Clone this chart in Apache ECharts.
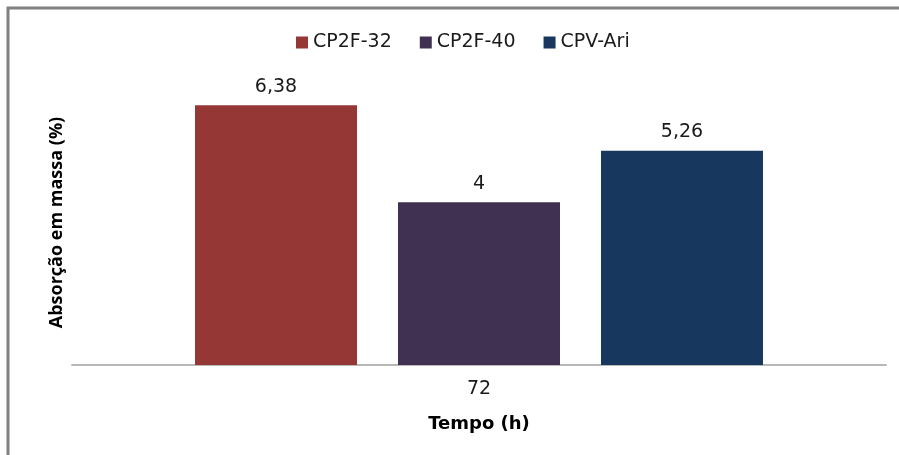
<!DOCTYPE html>
<html>
<head>
<meta charset="utf-8">
<script src="https://cdn.jsdelivr.net/npm/echarts@6/dist/echarts.min.js"></script>
<style>
  html, body { margin: 0; padding: 0; background: #ffffff; }
  #chart { width: 899px; height: 455px; }
</style>
</head>
<body>
<div id="chart"></div>
<script>
// Mass absorption after 72 h for each mortar mix
const categories = ['72'];
const seriesNames = ['CP2F-32', 'CP2F-40', 'CPV-Ari'];
const seriesValues = [[6.38], [4], [5.26]];
const seriesColors = ['#953735', '#403152', '#17375E'];

const fmt = v => String(v).replace('.', ',');

const chart = echarts.init(document.getElementById('chart'));

const series = seriesNames.map((name, i) => ({
  name: name,
  type: 'bar',
  data: seriesValues[i],
  barWidth: 162,
  barGap: '25.3%',
  itemStyle: { color: seriesColors[i] },
  label: {
    show: true,
    position: 'top',
    distance: 9,
    formatter: p => fmt(p.value),
    fontFamily: 'DejaVu Sans',
    fontSize: 19,
    color: '#1a1a1a'
  }
}));

chart.setOption({
  backgroundColor: '#ffffff',
  animation: false,
  graphic: [{
    type: 'rect',
    shape: { x: 8, y: 8, width: 1000, height: 1000 },
    style: { fill: 'none', stroke: '#808080', lineWidth: 3 },
    z: 100
  }],
  legend: {
    left: 291,
    top: 28,
    itemWidth: 12,
    itemHeight: 12,
    itemGap: 28,
    icon: 'rect',
    textStyle: { fontFamily: 'DejaVu Sans', fontSize: 19, color: '#1a1a1a' },
    data: seriesNames
  },
  grid: { left: 72, right: 13, top: 80, bottom: 90 },
  xAxis: {
    type: 'category',
    data: categories,
    axisLine: { lineStyle: { color: '#b8b8b8', width: 2 } },
    axisTick: { show: false },
    axisLabel: { margin: 15, fontFamily: 'DejaVu Sans', fontSize: 19, color: '#1a1a1a' },
    name: 'Tempo (h)',
    nameLocation: 'middle',
    nameGap: 50,
    nameTextStyle: { fontFamily: 'DejaVu Sans', fontWeight: 'bold', fontSize: 18, color: '#000000' }
  },
  yAxis: {
    type: 'value',
    min: 0,
    max: 7,
    axisLine: { show: false },
    axisTick: { show: false },
    axisLabel: { show: false },
    splitLine: { show: false },
    name: 'Absorção em massa (%)',
    nameLocation: 'middle',
    nameGap: 6,
    nameRotate: 90,
    nameTextStyle: { fontFamily: 'Open Sans', fontWeight: 'bold', fontSize: 18, color: '#000000' }
  },
  series: series
});
</script>
</body>
</html>
